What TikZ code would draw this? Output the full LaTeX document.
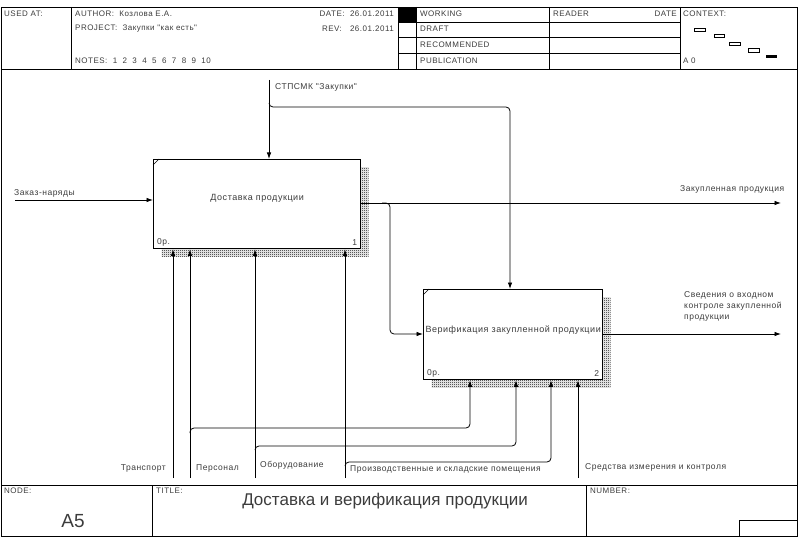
\documentclass[tikz,border=0pt]{standalone}
\usepackage{fontspec}
\setmainfont{Liberation Sans}
\newfontfamily\idefsans[LetterSpace=6]{Liberation Sans}
\usetikzlibrary{arrows.meta,patterns,shadows,positioning,calc}
\definecolor{idefgray}{RGB}{60,60,60}
\pgfdeclarepatternformonly{idefchecker}{\pgfpointorigin}{\pgfpoint{2pt}{2pt}}{\pgfpoint{2pt}{2pt}}{%
  \pgfpathrectangle{\pgfpointorigin}{\pgfpoint{1pt}{1pt}}%
  \pgfpathrectangle{\pgfpoint{1pt}{1pt}}{\pgfpoint{1pt}{1pt}}%
  \pgfusepath{fill}}

\begin{document}
\begin{tikzpicture}[x=1pt,y=-1pt,
  lbl/.style={font=\idefsans\fontsize{8.5}{11}\selectfont,text=idefgray,inner sep=0pt},
  boxtxt/.style={font=\idefsans\fontsize{9}{11}\selectfont,text=idefgray,inner sep=0pt},
  hdr/.style={font=\idefsans\fontsize{8}{9}\selectfont,text=idefgray,inner sep=0pt,anchor=west},
  funcbox/.style={draw,line width=1.3pt,fill=white,rectangle,inner sep=0pt,anchor=north west,
    general shadow={shadow xshift=8pt,shadow yshift=-8pt,pattern=idefchecker,pattern color=black}},
  arr/.style={-{Latex[length=6.5pt,width=4.5pt]},line width=0.8pt},
  link/.style={arr,rounded corners=4pt}]
\useasboundingbox (0,0) rectangle (800,537);

% frame
\draw[line width=0.8pt] (1,7) rectangle (797,536);
\draw[line width=0.8pt] (1,69) -- (797,69);
\draw[line width=0.8pt] (1,485) -- (797,485);
\foreach \x in {71,398,416,549,680}
  \draw (\x,7) -- (\x,69);
\foreach \y in {22,37,53}
  \draw (398,\y) -- (680,\y);
\fill (398,7) rectangle (416,22);

\node[hdr] (usedat) at (4,14) {USED AT:};
\node[hdr] (author) at (75,14) {AUTHOR:\ \ Козлова Е.А.};
\node[hdr] (project) at (75,29) {PROJECT:\ \ Закупки "как есть"};
\node[hdr] (notes) at (75,61) {NOTES:\ \ 1\ \ 2\ \ 3\ \ 4\ \ 5\ \ 6\ \ 7\ \ 8\ \ 9\ \ 10};
\node[hdr,anchor=east] (date) at (394,14) {DATE:\ \ 26.01.2011};
\node[hdr,anchor=east] (rev) at (394,29) {REV:\ \ \ 26.01.2011};
\node[hdr] (working) at (420,14) {WORKING};
\node[hdr] (draft) at (420,29) {DRAFT};
\node[hdr] (recommended) at (420,45) {RECOMMENDED};
\node[hdr] (publication) at (420,61) {PUBLICATION};
\node[hdr] (reader) at (553,14) {READER};
\node[hdr,anchor=east] (readerdate) at (677,14) {DATE};
\node[hdr] (context) at (683,14) {CONTEXT:};
\node[hdr] (ctxnode) at (683,61) {A 0};
\draw (694,28) rectangle (705,31);
\draw (714,34) rectangle (724,37);
\draw (729,42) rectangle (740,45);
\draw (748,48) rectangle (759,52);
\fill (766,55) rectangle (777,58);

% footer
\draw (152,485) -- (152,536);
\draw (586,485) -- (586,536);
\draw (739,520) rectangle (797,536);
\node[hdr] (nodelbl) at (4,491) {NODE:};
\node[hdr] (titlelbl) at (156,491) {TITLE:};
\node[hdr] (numberlbl) at (590,491) {NUMBER:};
\node[inner sep=0pt,font=\fontsize{19}{22}\selectfont,text=idefgray] (nodeno) at (73,521) {A5};
\node[inner sep=0pt,font=\fontsize{17}{20}\selectfont,text=idefgray] (title) at (385,501) {Доставка и верификация продукции};

% function boxes
\node[funcbox,minimum width=207pt,minimum height=89pt] (delivery) at (153,159) {};
\node[boxtxt] at ($(delivery.center)+(0,-6)$) {Доставка продукции};
\node[lbl,anchor=west] at ($(delivery.south west)+(4,-7)$) {0р.};
\node[lbl,anchor=east] at ($(delivery.south east)+(-4,-7)$) {1};
\draw ($(delivery.north west)+(0,6)$) -- ($(delivery.north west)+(6,0)$);

\node[funcbox,minimum width=179pt,minimum height=90pt] (verify) at (423,289) {};
\node[boxtxt] at ($(verify.center)+(0,-5)$) {Верификация закупленной продукции};
\node[lbl,anchor=west] at ($(verify.south west)+(4,-7)$) {0р.};
\node[lbl,anchor=east] at ($(verify.south east)+(-4,-7)$) {2};
\draw ($(verify.north west)+(0,6)$) -- ($(verify.north west)+(6,0)$);

% control
\coordinate (ctrl) at (269,80);
\coordinate (ctrlsplit) at (269,103);
\coordinate (ctrlverify) at (510,289);
\draw[arr] (ctrl) -- (ctrl |- delivery.north);
\draw[link] (ctrlsplit) -- (269,107) -- (ctrlverify |- 0,107) -- (ctrlverify);
\node[lbl,anchor=west] at (275,87) {СТПСМК "Закупки"};

% input
\coordinate (orders) at (15,200);
\draw[arr] (orders) -- (orders -| delivery.west);
\node[lbl,anchor=west] at (14,193) {Заказ-наряды};

% outputs
\coordinate (bought) at (781,203);
\coordinate (bought2) at (781,334);
\draw[arr] (delivery.east |- bought) -- (bought);
\draw[link] (382,203) -- (390,203) -- (390,334) -- (verify.west |- 0,334);
\draw[arr] (verify.east |- bought2) -- (bought2);
\node[lbl,anchor=west] at (680,189) {Закупленная продукция};
\node[lbl,anchor=north west,align=left] at (684,291) {Сведения о входном\\контроле закупленной\\продукции};

% mechanisms
\coordinate (transport) at (173,478);
\coordinate (staff) at (190,478);
\coordinate (equip) at (255,478);
\coordinate (rooms) at (345,478);
\coordinate (measure) at (578,478);
\draw[arr] (transport) -- (transport |- delivery.south);
\draw[arr] (staff) -- (staff |- delivery.south);
\draw[arr] (equip) -- (equip |- delivery.south);
\draw[arr] (rooms) -- (rooms |- delivery.south);
\draw[arr] (measure) -- (measure |- verify.south);
\draw[link] (190,433) -- (190,428) -- (470,428) -- (470,0 |- verify.south);
\draw[link] (255,450) -- (255,446) -- (516,446) -- (516,0 |- verify.south);
\draw[link] (345,466) -- (345,462) -- (551,462) -- (551,0 |- verify.south);
\node[lbl,anchor=east] at (166,468) {Транспорт};
\node[lbl,anchor=west] at (196,468) {Персонал};
\node[lbl,anchor=west] at (260,465) {Оборудование};
\node[lbl,anchor=west] at (350,469) {Производственные и складские помещения};
\node[lbl,anchor=west] at (585,467) {Средства измерения и контроля};
\end{tikzpicture}
\end{document}
